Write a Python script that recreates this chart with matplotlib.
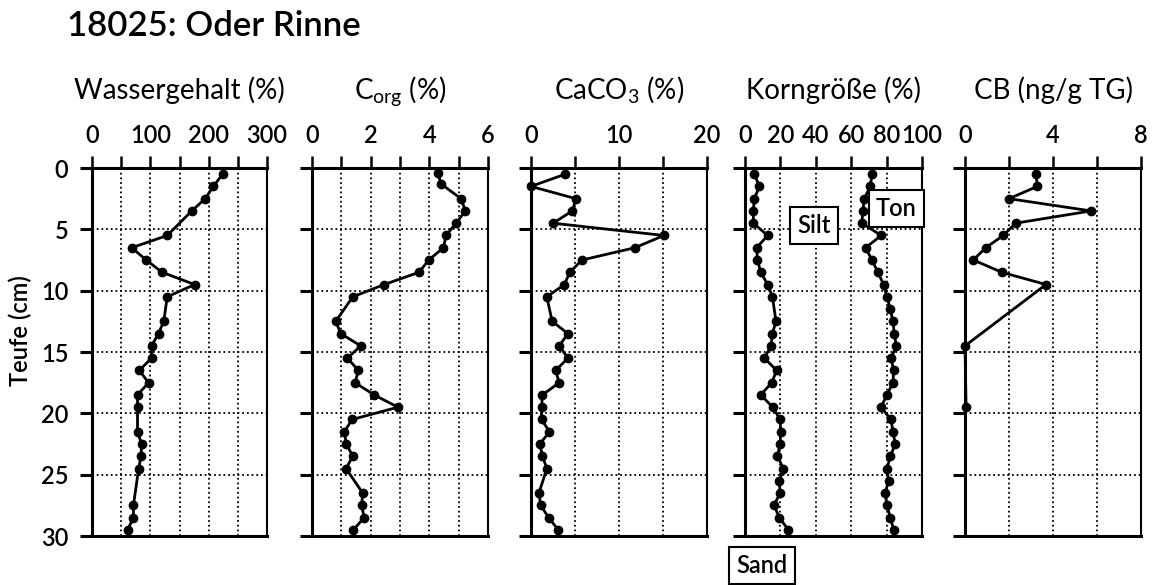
import matplotlib
matplotlib.use("Agg")
import matplotlib.pyplot as plt

plt.rcParams['font.family'] = ['Lato', 'DejaVu Sans']
plt.rcParams['font.weight'] = 'semibold'
plt.rcParams['mathtext.default'] = 'regular'

# depth (cm) and values
wg_depth = [0.5, 1.5, 2.5, 3.5, 5.5, 6.5, 7.5, 8.5, 9.5, 10.5, 12.5, 13.5, 14.5, 15.5,
            16.5, 17.5, 18.5, 19.5, 21.5, 22.5, 23.5, 24.5, 27.5, 28.5, 29.5]
wg_val = [224, 208, 194, 171, 129, 68, 93, 120, 176, 129, 123, 114, 102, 102,
          81, 97, 78, 78, 78, 85, 84, 80, 71, 71, 61]

co_depth = [0.4, 1.3, 2.5, 3.5, 4.5, 5.5, 6.5, 7.5, 8.5, 9.5, 10.5, 12.5, 13.5, 14.5,
            15.5, 16.5, 17.5, 18.5, 19.5, 20.5, 21.5, 22.5, 23.5, 24.5, 26.5, 27.5, 28.5, 29.5]
co_val = [4.29, 4.40, 5.08, 5.23, 4.91, 4.57, 4.48, 3.98, 3.65, 2.46, 1.39, 0.81, 0.98, 1.66,
          1.21, 1.58, 1.47, 2.12, 2.93, 1.37, 1.10, 1.17, 1.39, 1.16, 1.73, 1.69, 1.78, 1.41]

ca_depth = [0.5, 1.5, 2.5, 3.5, 4.5, 5.5, 6.5, 7.5, 8.5, 9.5, 10.5, 12.5, 13.5, 14.5,
            15.5, 16.5, 17.5, 18.5, 19.5, 20.5, 21.5, 22.5, 23.5, 24.5, 26.5, 27.5, 28.5, 29.5]
ca_val = [3.9, 0.0, 5.1, 4.7, 2.5, 15.1, 11.8, 5.8, 4.4, 3.8, 1.8, 2.4, 4.2, 3.2,
          4.2, 2.8, 3.2, 1.3, 1.2, 1.2, 2.1, 1.0, 1.3, 1.8, 0.9, 1.1, 2.0, 3.1]

sand_depth = [0.5, 1.5, 2.5, 3.5, 4.5, 5.5, 6.5, 7.5, 8.5, 9.5, 10.5, 12.5, 13.5, 14.5,
              15.5, 16.5, 17.5, 18.5, 19.5, 20.5, 21.5, 22.5, 23.5, 24.5, 25.5, 26.5,
              27.5, 28.5, 29.5]
sand_val = [5.3, 8.1, 5.3, 4.7, 4.7, 12.8, 6.6, 7.0, 8.9, 12.8, 15.5, 17.5, 15.5, 14.7,
            10.9, 17.9, 15.1, 8.9, 15.7, 19.8, 20.2, 19.8, 18.3, 21.7, 19.4, 19.8,
            16.4, 19.4, 24.5]

silt_depth = [0.5, 1.5, 2.5, 3.5, 4.5, 5.5, 6.5, 7.5, 8.5, 9.5, 10.5, 11.5, 12.5, 13.5,
              14.5, 15.5, 16.5, 17.5, 18.5, 19.5, 20.5, 21.5, 22.5, 23.5, 24.5, 25.5,
              26.5, 27.5, 28.5, 29.5]
silt_val = [71.7, 70.8, 67.4, 66.6, 66.0, 77.0, 68.1, 71.7, 75.1, 78.3, 80.2, 82.1, 83.6, 84.3,
            85.5, 82.5, 84.0, 83.6, 80.2, 76.8, 82.5, 83.6, 84.9, 82.1, 80.2, 81.1,
            79.2, 80.2, 82.1, 84.0]

cb_depth = [0.5, 1.5, 2.5, 3.5, 4.5, 5.5, 6.5, 7.5, 8.5, 9.5, 14.5, 19.5]
cb_val = [3.23, 3.29, 2.0, 5.73, 2.3, 1.74, 0.94, 0.38, 1.67, 3.68, 0.0, 0.05]

titles = ['Wassergehalt (%)', 'C$_{org}$ (%)', 'CaCO$_3$ (%)', 'Korngröße (%)', 'CB (ng/g TG)']
xmax = [300, 6, 20, 100, 8]
xstep = [50, 1, 5, 20, 2]
xlabels = [['0', '', '100', '', '200', '', '300'],
           ['0', '', '2', '', '4', '', '6'],
           ['0', '', '10', '', '20'],
           ['0', '20', '40', '60', '80', '100'],
           ['0', '', '4', '', '8']]
series = [[(wg_val, wg_depth)],
          [(co_val, co_depth)],
          [(ca_val, ca_depth)],
          [(sand_val, sand_depth), (silt_val, silt_depth)],
          [(cb_val, cb_depth)]]
yticks = [0, 5, 10, 15, 20, 25, 30]

W, H = 1153, 585
lefts = [92, 312, 531, 745, 965]
widths = [175, 176, 176, 177, 176]
top_px, bot_px = 168, 536

fig = plt.figure(figsize=(W / 100, H / 100), dpi=100)

for i in range(5):
    ax = fig.add_axes([lefts[i] / W, (H - bot_px) / H, widths[i] / W, (bot_px - top_px) / H])
    ax.set_xlim(0, xmax[i])
    ax.set_ylim(30, 0)
    ticks = [k * xstep[i] for k in range(int(xmax[i] / xstep[i]) + 1)]
    ax.set_xticks(ticks)
    ax.set_xticklabels(xlabels[i])
    ax.set_yticks(yticks)
    ax.xaxis.tick_top()
    ax.tick_params(axis='x', direction='out', length=9, width=1.8, labelsize=17, pad=6)
    ax.tick_params(axis='y', direction='out', length=9, width=2.2, labelsize=17, pad=8)
    if i > 0:
        ax.set_yticklabels([])
    for s in ['left', 'top', 'bottom']:
        ax.spines[s].set_linewidth(2.2)
    ax.spines['right'].set_linewidth(1.5)
    for t in ticks[1:-1]:
        ax.axvline(t, color='black', lw=1.3, ls=(0, (1, 1.6)), zorder=1)
    for t in yticks[1:-1]:
        ax.axhline(t, color='black', lw=1.3, ls=(0, (1, 1.6)), zorder=1)
    for xs, ys in series[i]:
        ax.plot(xs, ys, color='black', lw=2, marker='o', ms=6, clip_on=False, zorder=3)
    ax.set_title(titles[i], fontsize=20, pad=50)

ax4 = fig.axes[3]
box = dict(boxstyle='square,pad=0.3', facecolor='white', edgecolor='black', linewidth=1.5)
ax4.text(39, 4.7, 'Silt', fontsize=17, ha='center', va='center', bbox=box, zorder=4)
ax4.text(85.5, 3.3, 'Ton', fontsize=17, ha='center', va='center', bbox=box, zorder=4)
ax4.text(9.6, 32.4, 'Sand', fontsize=17, ha='center', va='center', bbox=box,
         zorder=4, clip_on=False)

fig.text(20 / W, 1 - 331 / H, 'Teufe (cm)', rotation=90, fontsize=17, ha='center', va='center')
fig.text(67 / W, 1 - 26 / H, '18025: Oder Rinne', fontsize=25, ha='left', va='center')

fig.savefig('out.png', dpi=100)
